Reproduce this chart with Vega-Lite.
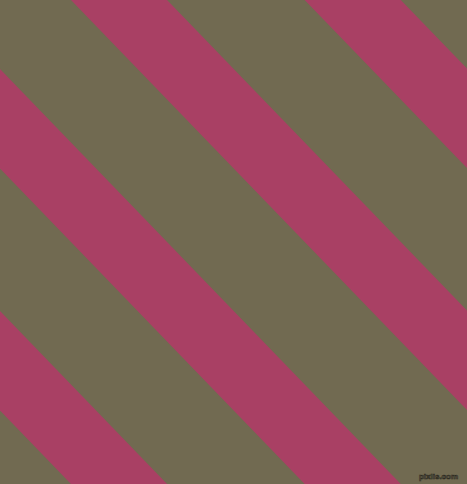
{
  "$schema": "https://vega.github.io/schema/vega-lite/v6.json",
  "width": 467,
  "height": 484,
  "padding": 0,
  "autosize": {"type": "none"},
  "background": "#716A51",
  "config": {"view": {"stroke": null, "fill": "#716A51"}},
  "datasets": {
    "stripes": [
      {"stripe": "S1", "x": 0, "top": -415, "bottom": -315.5},
      {"stripe": "S1", "x": 467, "top": 68.6, "bottom": 168.1},
      {"stripe": "S2", "x": 0, "top": -173, "bottom": -73.5},
      {"stripe": "S2", "x": 467, "top": 310.6, "bottom": 410.1},
      {"stripe": "S3", "x": 0, "top": 69, "bottom": 168.5},
      {"stripe": "S3", "x": 467, "top": 552.6, "bottom": 652.1},
      {"stripe": "S4", "x": 0, "top": 311, "bottom": 410.5},
      {"stripe": "S4", "x": 467, "top": 794.6, "bottom": 894.1}
    ],
    "mark": [
      {"label": "pixlis.com", "x": 438.5, "y": 476.5}
    ]
  },
  "layer": [
    {
      "data": {"name": "stripes"},
      "mark": {"type": "area", "color": "#A94064", "clip": true, "interpolate": "linear"},
      "encoding": {
        "x": {"field": "x", "type": "quantitative", "scale": {"domain": [0, 467], "nice": false, "zero": false}, "axis": null},
        "y": {"field": "top", "type": "quantitative", "scale": {"domain": [0, 484], "nice": false, "zero": false, "reverse": true}, "axis": null},
        "y2": {"field": "bottom"},
        "detail": {"field": "stripe"}
      }
    },
    {
      "data": {"name": "mark"},
      "mark": {"type": "text", "font": "Liberation Sans", "fontSize": 8, "fontWeight": "bold", "fill": "#8a836a", "stroke": "#2e2c22", "strokeWidth": 0.7, "align": "center", "baseline": "middle"},
      "encoding": {
        "x": {"field": "x", "type": "quantitative"},
        "y": {"field": "y", "type": "quantitative"},
        "text": {"field": "label"}
      }
    }
  ]
}
